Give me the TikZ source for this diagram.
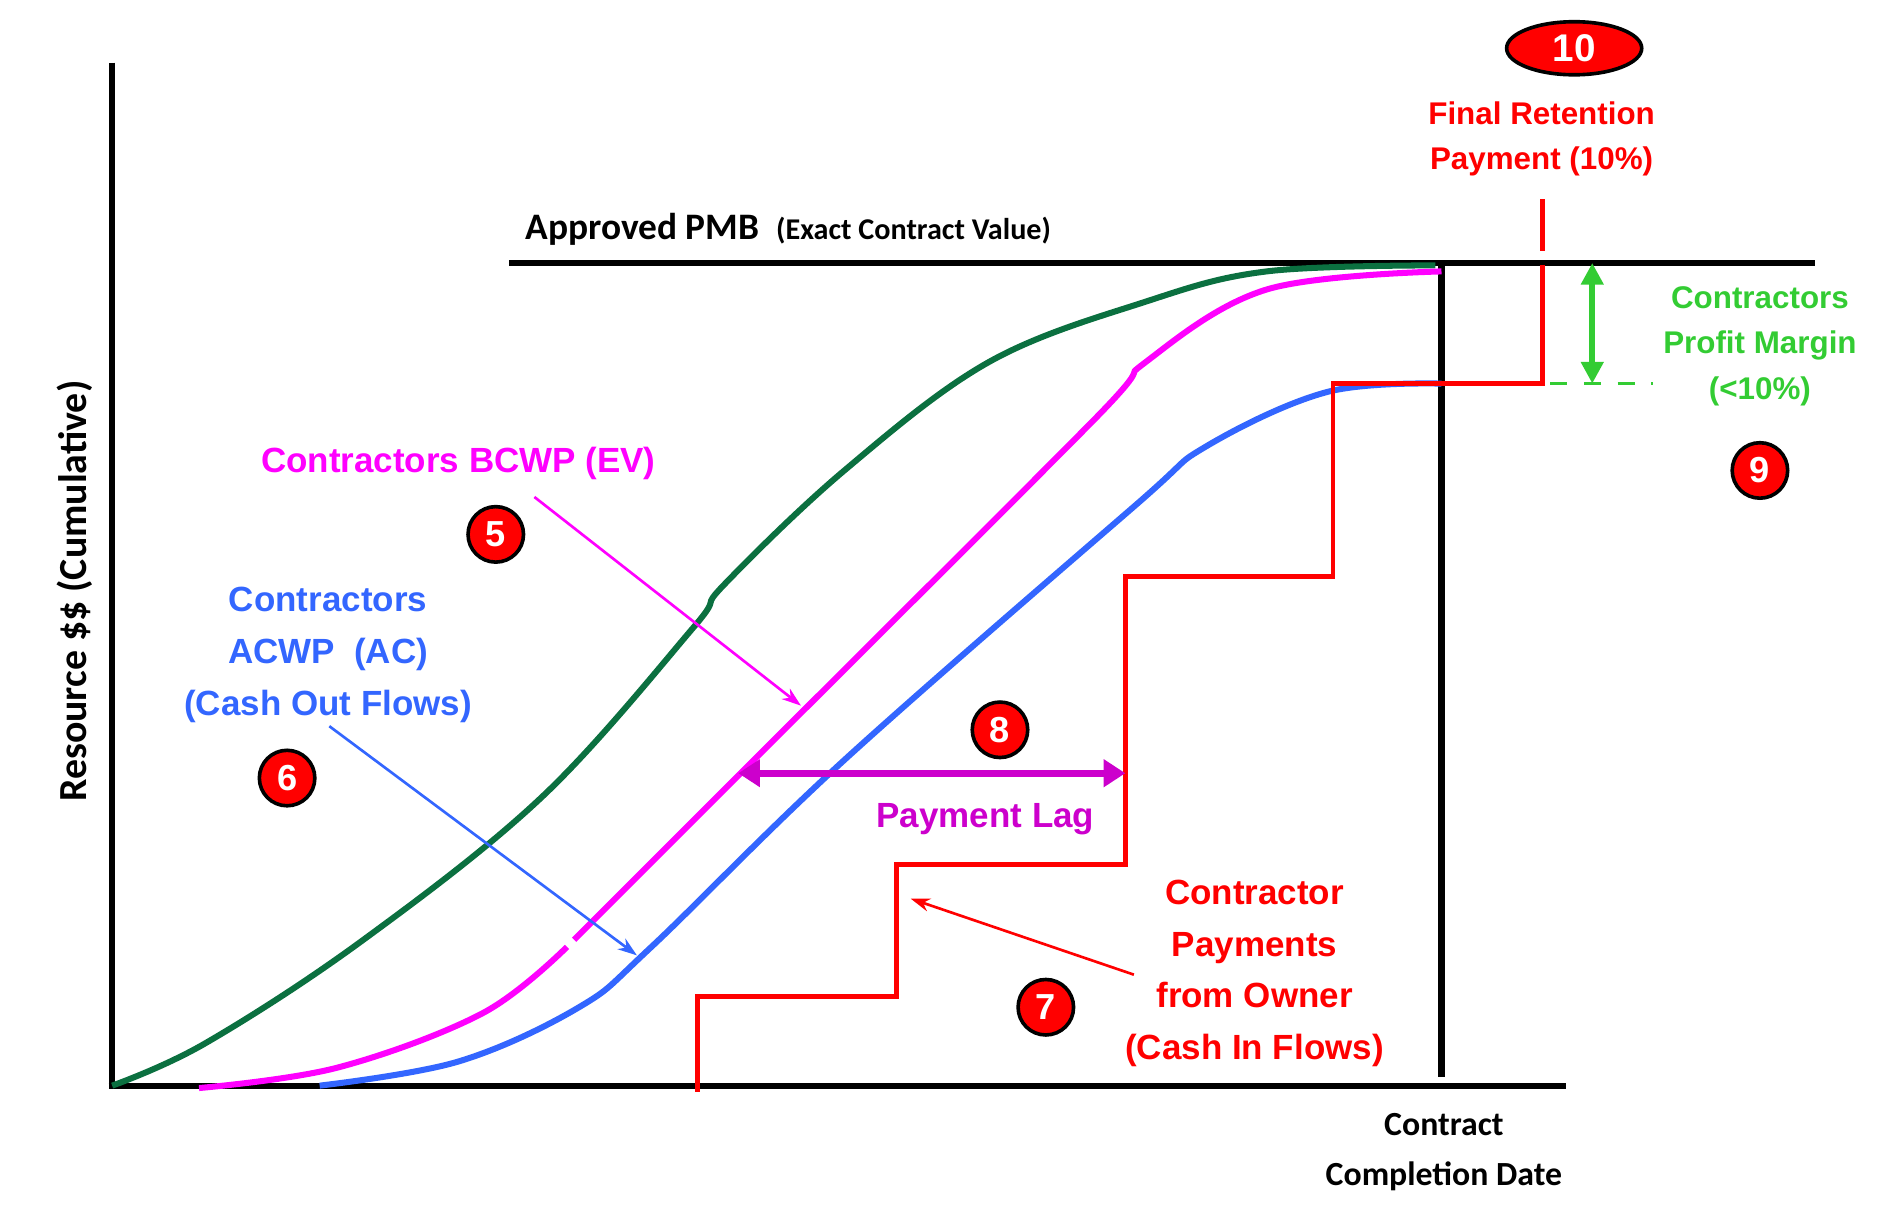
\documentclass[tikz,border=0pt]{standalone}
\usepackage{fontspec}
\setmainfont{Liberation Sans}
\newfontfamily\carlitofont{Carlito}
\usetikzlibrary{shapes.geometric,arrows.meta}
\definecolor{dgreen}{HTML}{0B7040}
\definecolor{mag}{HTML}{FF00FF}
\definecolor{blu}{HTML}{3366FF}
\definecolor{lgreen}{HTML}{33CC33}
\definecolor{dmag}{HTML}{CC00CC}
\begin{document}
\begin{tikzpicture}[x=1pt,y=-1pt,
 badge/.style={circle,draw=black,line width=3pt,fill=red,text=white,minimum size=46pt,inner sep=0pt,font=\bfseries\fontsize{30}{30}\selectfont},
 lab/.style={align=center,font=\bfseries\fontsize{29}{43}\selectfont},
 thin/.style={line width=2.2pt,-{Stealth[length=16pt,width=11pt]}},
 curve/.style={line width=5pt}]
\useasboundingbox (0,0) rectangle (1566,1009);
% axes
\draw[line width=5pt] (93,52) -- (93,903);
\draw[line width=5pt] (90,900) -- (1298,900);
\draw[line width=5pt] (422,218) -- (1505,218);
\draw[line width=5pt] (1195,218) -- (1195,893);
% curves
\draw[curve,dgreen] plot[smooth,tension=0.6] coordinates {(93,900) (170,865) (300,780) (450,660) (575,520) (600,485) (700,390) (820,300) (950,250) (1050,225) (1190,220)};
\draw[curve,mag] plot[smooth,tension=0.6] coordinates {(165,902) (280,885) (400,840) (470,785)};
\draw[curve,mag] plot[smooth,tension=0.6] coordinates {(476,779) (610,645) (905,350) (950,300) (1050,240) (1195,225)};
\draw[curve,blu] plot[smooth,tension=0.6] coordinates {(265,900) (380,880) (480,835) (540,785) (700,630) (940,420) (1000,370) (1100,325) (1195,318)};
\draw[line width=4pt,red] (578,905) -- (578,826) -- (743,826) -- (743,717) -- (933,717) -- (933,478) -- (1105,478) -- (1105,318) -- (1279,318) -- (1279,220);
\draw[line width=4pt,red] (1279,165) -- (1279,208);
\draw[line width=3pt,lgreen,dash pattern=on 14pt off 14pt] (1285,318) -- (1370,318);
\draw[line width=5pt,lgreen,{Triangle[length=18pt,width=18pt]}-{Triangle[length=18pt,width=18pt]}] (1320,218) -- (1320,318);
\draw[line width=6pt,dmag,{Triangle[length=18pt,width=22pt]}-{Triangle[length=18pt,width=22pt]}] (612,641) -- (933,641);
% labels
\node[lab,mag] (bcwp) at (380,384) {Contractors BCWP (EV)};
\node[lab,blu] (acwp) at (272,543) {Contractors\\ACWP\ \ (AC)\\(Cash Out Flows)};
\node[lab,dmag] (lag) at (817,679) {Payment Lag};
\node[lab,red] (pay) at (1040,807) {Contractor\\Payments\\from Owner\\(Cash In Flows)};
\node[align=center,red,font=\bfseries\fontsize{26}{37}\selectfont] (fin) at (1278,115) {Final Retention\\Payment (10\%)};
\node[align=center,lgreen,font=\bfseries\fontsize{26}{38}\selectfont] (pm) at (1459,287) {Contractors\\Profit Margin\\(<10\%)};
\node[anchor=west,font=\carlitofont\bfseries\fontsize{31}{31}\selectfont] (pmb) at (432,190) {Approved PMB\ \ {\fontsize{25}{25}\selectfont(Exact Contract Value)}};
\node[align=center,font=\carlitofont\bfseries\fontsize{28}{42}\selectfont] (ccd) at (1197,955) {Contract\\Completion Date};
\node[rotate=90,font=\carlitofont\bfseries\fontsize{33}{33}\selectfont] (yl) at (62,490) {Resource \$\$ (Cumulative)};
% pointer arrows
\coordinate (m1) at (443,412); \coordinate (m2) at (664,585);
\coordinate (b1) at (273,602); \coordinate (b2) at (528,792);
\coordinate (r1) at (940,808); \coordinate (r2) at (755,745);
\draw[thin,mag] (m1) -- (m2);
\draw[thin,blu] (b1) -- (b2);
\draw[thin,red] (r1) -- (r2);
% badges
\node[badge] (n5) at (411,443) {5};
\node[badge] (n6) at (238,645) {6};
\node[badge] (n8) at (829,605) {8};
\node[badge] (n7) at (867,835) {7};
\node[badge] (n9) at (1459,390) {9};
\node[ellipse,draw=black,line width=3pt,fill=red,text=white,minimum width=112pt,minimum height=44pt,inner sep=0pt,font=\bfseries\fontsize{32}{32}\selectfont] (n10) at (1305,40) {10};
\end{tikzpicture}
\end{document}
